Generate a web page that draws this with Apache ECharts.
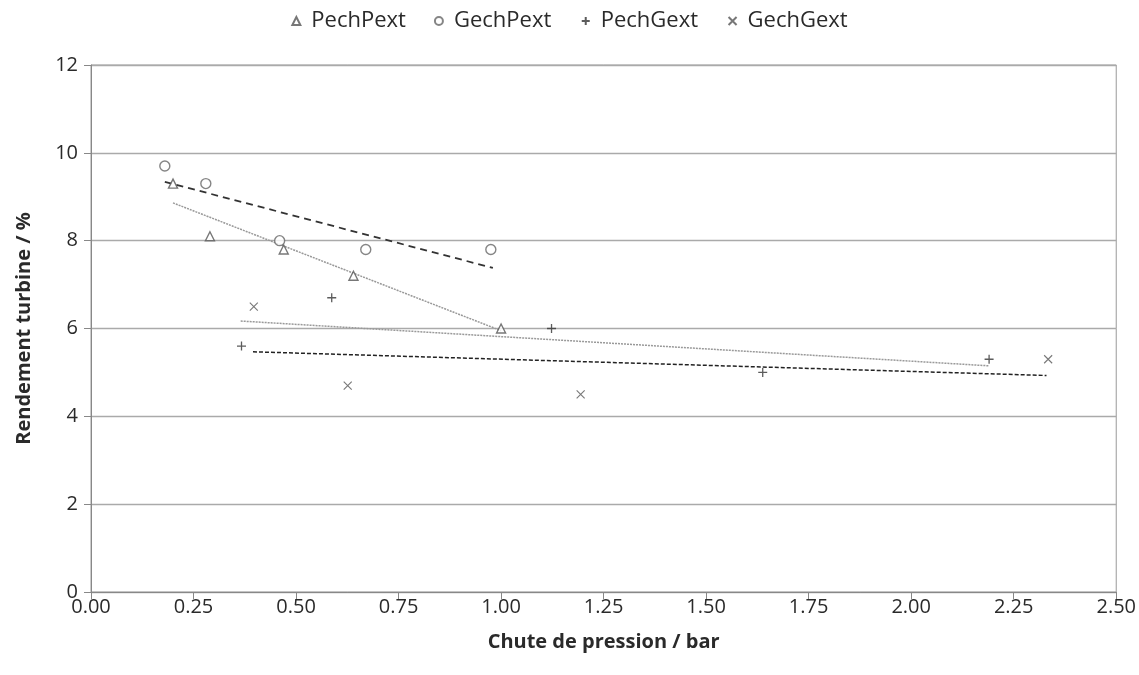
<!DOCTYPE html>
<html><head><meta charset="utf-8">
<script src="https://cdn.jsdelivr.net/npm/echarts@6/dist/echarts.min.js"></script>
<style>html,body{margin:0;padding:0;background:#fff}#c{width:1139px;height:675px}</style>
</head><body><div id="c"></div>
<script>
// Measured data (x: pressure drop in bar, y: turbine efficiency in %)
const pechPextX = [0.20, 0.29, 0.47, 0.64, 1.00];
const pechPextY = [9.3, 8.1, 7.8, 7.2, 6.0];
const gechPextX = [0.18, 0.28, 0.46, 0.67, 0.975];
const gechPextY = [9.7, 9.3, 8.0, 7.8, 7.8];
const pechGextX = [0.367, 0.587, 1.123, 1.638, 2.19];
const pechGextY = [5.6, 6.7, 6.0, 5.0, 5.3];
const gechGextX = [0.397, 0.626, 1.194, 2.334];
const gechGextY = [6.5, 4.7, 4.5, 5.3];
// Trend line end points
const trendPechPextX = [0.20, 1.00];
const trendPechPextY = [8.86, 5.95];
const trendGechPextX = [0.18, 0.98];
const trendGechPextY = [9.34, 7.38];
const trendPechGextX = [0.365, 2.19];
const trendPechGextY = [6.17, 5.15];
const trendGechGextX = [0.395, 2.33];
const trendGechGextY = [5.47, 4.93];
const seriesNames = ['PechPext', 'GechPext', 'PechGext', 'GechGext'];

const zip = (xs, ys) => xs.map((x, i) => [x, ys[i]]);
const plusPath = 'path://M5,0L5,10M0,5L10,5';
const crossPath = 'path://M0,0L10,10M10,0L0,10';

const chart = echarts.init(document.getElementById('c'));
const font = 'Open Sans, Noto Sans, sans-serif';
chart.setOption({
  animation: false,
  backgroundColor: '#fff',
  legend: {
    top: 5, left: 'center', itemGap: 28, itemWidth: 8, itemHeight: 8,
    data: seriesNames,
    textStyle: {fontSize: 22, color: '#2a2a2a', fontFamily: font, padding: [0, 0, 0, 6]}
  },
  grid: {left: 91, right: 22, top: 65, bottom: 83, show: true, borderColor: '#999', borderWidth: 1},
  xAxis: {
    type: 'value', min: 0, max: 2.5, interval: 0.25,
    name: 'Chute de pression / bar', nameLocation: 'middle', nameGap: 40,
    nameTextStyle: {fontSize: 20, fontWeight: 'bold', color: '#2a2a2a', fontFamily: font},
    axisLine: {show: true, lineStyle: {color: '#888'}},
    axisTick: {show: true, length: 7, lineStyle: {color: '#888'}},
    splitLine: {show: false},
    axisLabel: {fontSize: 20, color: '#2a2a2a', fontFamily: font, margin: 5, formatter: v => v.toFixed(2)}
  },
  yAxis: {
    type: 'value', min: 0, max: 12, interval: 2,
    name: 'Rendement turbine / %', nameLocation: 'middle', nameGap: 57,
    nameTextStyle: {fontSize: 20, fontWeight: 'bold', color: '#2a2a2a', fontFamily: font},
    axisLine: {show: true, lineStyle: {color: '#888'}},
    axisTick: {show: true, length: 7, lineStyle: {color: '#888'}},
    splitLine: {show: true, lineStyle: {color: '#aaa', width: 1.3}},
    axisLabel: {fontSize: 20, color: '#2a2a2a', fontFamily: font, margin: 13}
  },
  series: [
    {name: 'PechPext', type: 'scatter', data: zip(pechPextX, pechPextY), symbol: 'triangle', symbolSize: 9, z: 5,
     itemStyle: {color: '#fff', borderColor: '#555', borderWidth: 1.4}},
    {name: 'GechPext', type: 'scatter', data: zip(gechPextX, gechPextY), symbol: 'circle', symbolSize: 10, z: 5,
     itemStyle: {color: '#fff', borderColor: '#666', borderWidth: 1.4}},
    {name: 'PechGext', type: 'scatter', data: zip(pechGextX, pechGextY), symbol: plusPath, symbolSize: 9, z: 5,
     itemStyle: {color: 'none', borderColor: '#333', borderWidth: 1.3}},
    {name: 'GechGext', type: 'scatter', data: zip(gechGextX, gechGextY), symbol: crossPath, symbolSize: 8, z: 5,
     itemStyle: {color: 'none', borderColor: '#555', borderWidth: 1.1}},
    {name: 'trendPechPext', type: 'line', data: zip(trendPechPextX, trendPechPextY), symbol: 'none', z: 3,
     lineStyle: {color: '#999', width: 1.5, type: [2, 1]}},
    {name: 'trendGechPext', type: 'line', data: zip(trendGechPextX, trendGechPextY), symbol: 'none', z: 3,
     lineStyle: {color: '#333', width: 1.8, type: [7, 5]}},
    {name: 'trendPechGext', type: 'line', data: zip(trendPechGextX, trendPechGextY), symbol: 'none', z: 3,
     lineStyle: {color: '#999', width: 1.5, type: [2, 1]}},
    {name: 'trendGechGext', type: 'line', data: zip(trendGechGextX, trendGechGextY), symbol: 'none', z: 3,
     lineStyle: {color: '#222', width: 1.5, type: [4, 2]}}
  ]
});
</script></body></html>
